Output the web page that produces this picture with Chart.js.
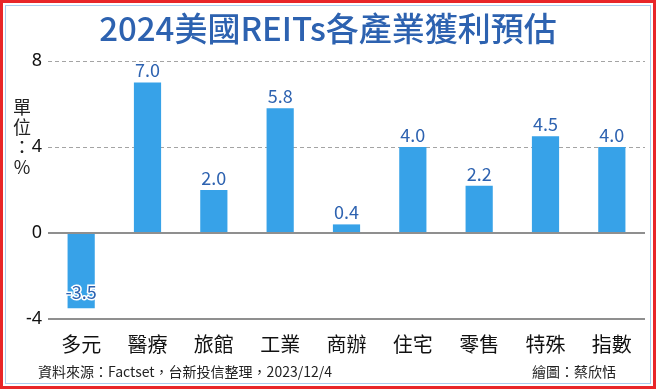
<!DOCTYPE html>
<html>
<head>
<meta charset="utf-8">
<script src="https://cdn.jsdelivr.net/npm/chart.js@4"></script>
<style>
  html, body { margin: 0; padding: 0; background: #fff; }
  #wrap { width: 656px; height: 389px; position: relative; }
</style>
</head>
<body>
<div id="wrap"><canvas id="grafico" width="656" height="389"></canvas></div>
<script>
const categorias = ['多元', '醫療', '旅館', '工業', '商辦', '住宅', '零售', '特殊', '指數'];
const valores = [-3.5, 7.0, 2.0, 5.8, 0.4, 4.0, 2.2, 4.5, 4.0];
const ticksY = [-4, 0, 4, 8];

const fonteCJK = '"Noto Sans CJK TC", "Noto Sans", sans-serif';
const azulTexto = '#2d62b0';

function linhaSolida(c) {
    return c.tick && (c.tick.value === 0 || c.tick.value === -4);
}

// titulo, unidade, rodape, bordas e rotulos
const extras = {
    id: 'extras',
    afterDraw(chart) {
        const ctx = chart.ctx;
        ctx.save();
        // bordas
        ctx.strokeStyle = '#e8262a';
        ctx.lineWidth = 3;
        ctx.strokeRect(1.5, 1.5, 653, 386);
        ctx.strokeStyle = '#a9cdf0';
        ctx.lineWidth = 1;
        ctx.strokeRect(5.5, 5.5, 645, 378);

        // titulo
        ctx.fillStyle = azulTexto;
        ctx.font = '500 33px ' + fonteCJK;
        ctx.textAlign = 'center';
        ctx.textBaseline = 'middle';
        ctx.fillText('2024美國REITs各產業獲利預估', 328, 28);

        // unidade vertical
        ctx.fillStyle = '#222';
        ctx.font = '18px ' + fonteCJK;
        ['單', '位', '：', '%'].forEach((c, i) => {
            ctx.fillText(c, 22, 107 + i * 20);
        });

        // rodape
        ctx.font = '14px ' + fonteCJK;
        ctx.textAlign = 'left';
        ctx.fillText('資料來源：Factset，台新投信整理，2023/12/4', 38, 372);
        ctx.textAlign = 'right';
        ctx.fillText('繪圖：蔡欣恬', 616, 372);

        // rotulos de dados
        const meta = chart.getDatasetMeta(0);
        ctx.font = '18px ' + fonteCJK;
        ctx.textAlign = 'center';
        meta.data.forEach((barra, i) => {
            const v = valores[i];
            const txt = v.toFixed(1);
            if (v >= 0) {
                ctx.fillStyle = azulTexto;
                ctx.textBaseline = 'bottom';
                ctx.fillText(txt, barra.x, barra.y - 3);
            } else {
                ctx.textBaseline = 'middle';
                ctx.lineWidth = 3;
                ctx.strokeStyle = '#fff';
                ctx.strokeText(txt, barra.x, barra.y - 16);
                ctx.fillStyle = azulTexto;
                ctx.fillText(txt, barra.x, barra.y - 16);
            }
        });
        ctx.restore();
    }
};

const ctx = document.getElementById('grafico').getContext('2d');
const grafico = new Chart(ctx, {
    type: 'bar',
    data: {
        labels: categorias,
        datasets: [{
            data: valores,
            backgroundColor: '#37a2e8',
            borderWidth: 0,
            categoryPercentage: 1.0,
            barPercentage: 0.41
        }]
    },
    options: {
        responsive: false,
        animation: false,
        layout: { padding: { left: 0, right: 11, top: 61, bottom: 0 } },
        plugins: { legend: { display: false }, tooltip: { enabled: false } },
        scales: {
            x: {
                afterFit: s => { s.height = 70; },
                grid: { display: false },
                border: { display: false },
                ticks: {
                    color: '#111',
                    padding: 5,
                    font: { family: fonteCJK, size: 20 }
                }
            },
            y: {
                min: -4,
                max: 8,
                afterFit: s => { s.width = 48; },
                afterBuildTicks: s => { s.ticks = ticksY.map(v => ({ value: v })); },
                border: {
                    display: false,
                    dash: c => linhaSolida(c) ? [] : [4, 3]
                },
                grid: {
                    drawTicks: false,
                    color: c => linhaSolida(c) ? '#8f8f8f' : '#a4a4a4',
                    lineWidth: c => linhaSolida(c) ? 2 : 1
                },
                ticks: {
                    color: '#111',
                    padding: 6,
                    font: { family: '"Noto Sans", sans-serif', size: 18 }
                }
            }
        }
    },
    plugins: [extras]
});
</script>
</body>
</html>
